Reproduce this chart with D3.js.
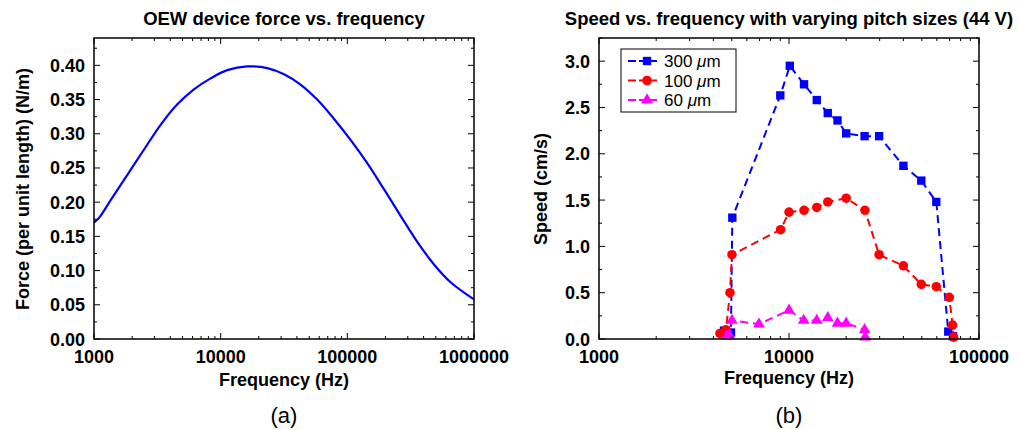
<!DOCTYPE html>
<html>
<head>
<meta charset="utf-8">
<script src="https://cdn.jsdelivr.net/npm/d3@7"></script>
<style>
  body { margin: 0; background: #fff; }
  svg text { font-family: "Liberation Sans", Arial, Helvetica, sans-serif; }
</style>
</head>
<body>
<svg id="container" width="1019" height="430"></svg>
<script>
// panel (a): force vs frequency
const forceFreq = [1000, 1095, 1354, 1835, 2483, 3358, 4545, 6150, 8330, 11270, 16220, 23340, 31620, 42700, 57800, 78300, 106000, 143600, 194500, 263400, 356500, 483000, 653700, 1000000];
const forceVal = [0.170, 0.177, 0.203, 0.240, 0.277, 0.313, 0.343, 0.365, 0.381, 0.393, 0.3985, 0.396, 0.387, 0.372, 0.350, 0.322, 0.291, 0.257, 0.219, 0.180, 0.142, 0.109, 0.083, 0.0578];

// panel (b): speed vs frequency
const freq300 = [4550, 4950, 5030, 9000, 10100, 12000, 14000, 16000, 18000, 20000, 25000, 29800, 40000, 49700, 59600, 68900, 73000];
const speed300 = [0.09, 0.07, 1.31, 2.63, 2.95, 2.75, 2.58, 2.44, 2.36, 2.22, 2.19, 2.19, 1.87, 1.71, 1.48, 0.08, 0.03];
const freq100 = [4330, 4660, 4890, 5010, 9030, 10000, 12000, 14000, 16000, 20000, 25100, 29800, 40000, 49700, 59600, 69800, 72600, 73500];
const speed100 = [0.06, 0.10, 0.50, 0.91, 1.18, 1.37, 1.39, 1.42, 1.48, 1.52, 1.39, 0.91, 0.79, 0.59, 0.565, 0.45, 0.15, 0.02];
const freq60 = [4700, 4850, 5010, 6950, 10000, 11950, 14000, 16000, 18000, 20000, 25000, 25200];
const speed60 = [0.03, 0.04, 0.20, 0.16, 0.31, 0.20, 0.20, 0.23, 0.17, 0.17, 0.10, 0.02];

const seriesNames = ["300 \u03bcm", "100 \u03bcm", "60 \u03bcm"];
const seriesColors = ["#0000ff", "#ff0000", "#ff00ff"];

const svg = d3.select('#container');

function frame(g, x, y, w, h, yMajor, yMinor, yFmt) {
    const xs = x.ticks();
    const [y0, y1] = y.domain();
    const majors = d3.range(y0, y1 + 1e-9, yMajor);
    const minors = d3.range(y0, y1 + 1e-9, yMinor);
    const logMajor = xs.filter(v => Math.abs(Math.log10(v) - Math.round(Math.log10(v))) < 1e-9);

    const t = g.append('g').attr('stroke', '#000').attr('stroke-width', 1);
    for (const v of xs) {
        const L = logMajor.includes(v) ? 6 : 3;
        const px = x(v);
        t.append('line').attr('x1', px).attr('x2', px).attr('y1', h).attr('y2', h - L);
        t.append('line').attr('x1', px).attr('x2', px).attr('y1', 0).attr('y2', L);
    }
    for (const v of minors) {
        const isMaj = majors.some(m => Math.abs(m - v) < 1e-9);
        const L = isMaj ? 6 : 3;
        const py = y(v);
        t.append('line').attr('x1', 0).attr('x2', L).attr('y1', py).attr('y2', py);
        t.append('line').attr('x1', w).attr('x2', w - L).attr('y1', py).attr('y2', py);
    }
    g.append('rect').attr('width', w).attr('height', h)
        .attr('fill', 'none').attr('stroke', '#000').attr('stroke-width', 1.5);

    g.selectAll('.xl').data(logMajor).join('text')
        .attr('x', d => x(d)).attr('y', h + 24)
        .attr('text-anchor', 'middle').attr('font-size', 18).attr('font-weight', 'bold')
        .text(d => d3.format('d')(d));
    g.selectAll('.yl').data(majors).join('text')
        .attr('x', -9).attr('y', d => y(d) + 6.5)
        .attr('text-anchor', 'end').attr('font-size', 18).attr('font-weight', 'bold')
        .text(d => yFmt(d));
}

// ---------- panel (a)
{
    const left = 94, top = 38, w = 380, h = 301;
    const g = svg.append('g').attr('transform', 'translate(' + left + ',' + top + ')');
    const x = d3.scaleLog().domain([1000, 1000000]).range([0, w]);
    const y = d3.scaleLinear().domain([0, 0.44]).range([h, 0]);

    const pts = forceFreq.map((f, i) => [f, forceVal[i]]);
    g.append('path').datum(pts)
        .attr('fill', 'none').attr('stroke', '#0000ff').attr('stroke-width', 2.2)
        .attr('d', d3.line().x(d => x(d[0])).y(d => y(d[1])).curve(d3.curveCatmullRom.alpha(0.5)));

    frame(g, x, y, w, h, 0.05, 0.025, d3.format('.2f'));

    svg.append('text').attr('x', 284).attr('y', 25).attr('text-anchor', 'middle')
        .attr('font-size', 18.5).attr('font-weight', 'bold').text('OEW device force vs. frequency');
    svg.append('text').attr('x', 284).attr('y', 386).attr('text-anchor', 'middle')
        .attr('font-size', 18).attr('font-weight', 'bold').text('Frequency (Hz)');
    svg.append('text').attr('transform', 'translate(29,189) rotate(-90)').attr('text-anchor', 'middle')
        .attr('font-size', 18).attr('font-weight', 'bold').text('Force (per unit length) (N/m)');
    svg.append('text').attr('x', 284).attr('y', 423).attr('text-anchor', 'middle')
        .attr('font-size', 22).text('(a)');
}

// ---------- panel (b)
{
    const left = 599, top = 38, w = 380, h = 301;
    const g = svg.append('g').attr('transform', 'translate(' + left + ',' + top + ')');
    const x = d3.scaleLog().domain([1000, 100000]).range([0, w]);
    const y = d3.scaleLinear().domain([0, 3.25]).range([h, 0]);

    const series = [
        { freq: freq300, speed: speed300, shape: d3.symbolSquare, size: 70 },
        { freq: freq100, speed: speed100, shape: d3.symbolCircle, size: 72 },
        { freq: freq60, speed: speed60, shape: d3.symbolTriangle, size: 60 }
    ];
    const line = d3.line().x(d => x(d[0])).y(d => y(d[1]));

    series.forEach((s, i) => {
        const pts = s.freq.map((f, j) => [f, s.speed[j]]);
        g.append('path').datum(pts)
            .attr('fill', 'none').attr('stroke', seriesColors[i]).attr('stroke-width', 2)
            .attr('stroke-dasharray', '8,5').attr('d', line);
        g.selectAll('.m' + i).data(pts).join('path')
            .attr('transform', d => 'translate(' + x(d[0]) + ',' + y(d[1]) + ')')
            .attr('d', d3.symbol().type(s.shape).size(s.size))
            .attr('fill', seriesColors[i]);
    });

    frame(g, x, y, w, h, 0.5, 0.25, d3.format('.1f'));

    // legend
    const lg = svg.append('g').attr('transform', 'translate(621,49)');
    lg.append('rect').attr('width', 115).attr('height', 63)
        .attr('fill', '#fff').attr('stroke', '#000').attr('stroke-width', 1);
    series.forEach((s, i) => {
        const ry = 12 + i * 19.5;
        lg.append('line').attr('x1', 7).attr('x2', 36).attr('y1', ry).attr('y2', ry)
            .attr('stroke', seriesColors[i]).attr('stroke-width', 2).attr('stroke-dasharray', '8,3');
        lg.append('path').attr('transform', 'translate(26,' + ry + ')')
            .attr('d', d3.symbol().type(s.shape).size(s.size)).attr('fill', seriesColors[i]);
        const parts = seriesNames[i].split(' ');
        const tx = lg.append('text').attr('x', 43).attr('y', ry + 6).attr('font-size', 17);
        tx.append('tspan').text(parts[0] + ' ');
        tx.append('tspan').attr('font-style', 'italic').text(parts[1][0]);
        tx.append('tspan').text(parts[1].slice(1));
    });

    svg.append('text').attr('x', 789).attr('y', 25).attr('text-anchor', 'middle')
        .attr('font-size', 18.5).attr('font-weight', 'bold').text('Speed vs. frequency with varying pitch sizes (44 V)');
    svg.append('text').attr('x', 789).attr('y', 384).attr('text-anchor', 'middle')
        .attr('font-size', 18).attr('font-weight', 'bold').text('Frequency (Hz)');
    svg.append('text').attr('transform', 'translate(547,189) rotate(-90)').attr('text-anchor', 'middle')
        .attr('font-size', 18).attr('font-weight', 'bold').text('Speed (cm/s)');
    svg.append('text').attr('x', 789).attr('y', 423).attr('text-anchor', 'middle')
        .attr('font-size', 22).text('(b)');
}
</script>
</body>
</html>
